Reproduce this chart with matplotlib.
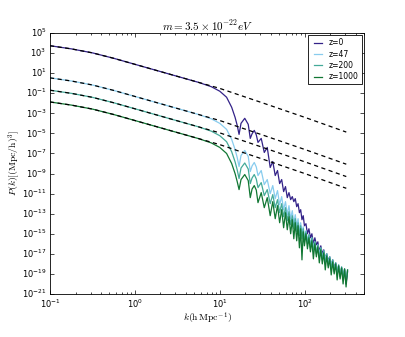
"""
FDM power spectrum vs CDM at several redshifts (log-log)
"""

import matplotlib
matplotlib.use("Agg")
import matplotlib.pyplot as plt
import numpy as np

# ---- data (log10 values) ----
# CDM reference curves (dashed)
lk_cdm = [-1.0, -0.75, -0.5, -0.25, 0.0, 0.25, 0.5, 0.75, 1.0, 1.5, 2.0, 2.49]
lp_cdm_z0 = [3.73, 3.42, 3.02, 2.48, 1.88, 1.28, 0.68, 0.08, -0.52, -1.95, -3.4, -4.87]
lp_cdm_z47 = [0.53, 0.22, -0.18, -0.72, -1.32, -1.92, -2.52, -3.12, -3.72, -5.15, -6.6, -8.07]
lp_cdm_z200 = [-0.7, -1.01, -1.41, -1.95, -2.55, -3.15, -3.75, -4.35, -4.95, -6.38, -7.83, -9.3]
lp_cdm_z1000 = [-1.87, -2.18, -2.58, -3.12, -3.72, -4.32, -4.92, -5.52, -6.12, -7.55, -9.0, -10.47]

# FDM curves: shared k grid
lk_fdm = [
    -1.0, -0.75, -0.5, -0.25, 0.0, 0.25, 0.5, 0.75, 0.9, 1.0, 1.08, 1.14, 1.18, 1.205,
    1.227, 1.25, 1.294, 1.335, 1.359, 1.38, 1.406, 1.43, 1.45, 1.488, 1.524, 1.559,
    1.594, 1.624, 1.653, 1.68, 1.705, 1.729, 1.752, 1.774, 1.795, 1.815, 1.835, 1.854,
    1.872, 1.889, 1.906, 1.922, 1.938, 1.953, 1.968, 1.983, 1.997,
    2.015, 2.0325, 2.05, 2.0675, 2.085, 2.1025, 2.12, 2.1375, 2.155, 2.1725, 2.19,
    2.2075, 2.225, 2.2425, 2.26, 2.2775, 2.295, 2.3125, 2.33, 2.3475, 2.365, 2.3825,
    2.40, 2.4175, 2.435, 2.4525, 2.47, 2.4875, 2.505,
]
lp_z0 = [
    3.73, 3.42, 3.02, 2.48, 1.88, 1.28, 0.68, 0.08, -0.35, -0.8, -1.4, -2.4, -3.4, -4.2,
    -5.1, -4.0, -3.5, -4.1, -5.5, -5.05, -4.7, -5.15, -5.9, -5.5, -6.9, -6.4,
    -8.4, -7.8, -9.2, -8.7, -10.0, -9.6, -10.8, -10.3, -11.4, -10.9, -11.6, -11.3,
    -11.8, -11.5, -12.3, -12.0, -12.9, -12.6, -13.6, -13.2, -14.2,
    -14.0, -15.0, -14.5, -15.4, -15.0, -16.0, -15.4, -16.1, -15.8, -16.8, -16.2,
    -17.0, -16.6, -17.5, -17.0, -17.7, -17.3, -18.2, -17.6, -18.4, -17.9, -18.9,
    -18.2, -19.2, -18.4, -19.4, -18.6, -20.0, -18.8,
]
lp_z47 = [
    0.53, 0.22, -0.18, -0.72, -1.32, -1.92, -2.52, -3.12, -3.55, -4.0, -4.6, -5.6, -6.6, -7.4,
    -8.3, -7.2, -6.7, -7.3, -8.8, -8.25, -7.9, -8.35, -9.2, -8.7, -10.1, -9.6,
    -11.0, -10.2, -11.5, -10.7, -12.1, -11.3, -12.6, -11.8, -13.1, -12.2, -13.5, -12.7,
    -14.0, -13.1, -14.3, -13.5, -14.8, -13.9, -15.0, -14.3, -15.4,
    -14.7, -15.6, -15.1, -16.1, -15.4, -16.3, -15.8, -16.8, -16.1, -17.0, -16.4,
    -17.4, -16.7, -17.5, -17.0, -17.9, -17.3, -18.1, -17.6, -18.6, -17.9, -18.7,
    -18.1, -19.1, -18.3, -19.2, -18.5, -19.5, -18.6,
]
lp_z200 = [
    -0.7, -1.01, -1.41, -1.95, -2.55, -3.15, -3.75, -4.35, -4.78, -5.23, -5.83, -6.83, -7.83, -8.63,
    -9.5, -8.45, -7.95, -8.55, -10.0, -9.45, -9.1, -9.55, -10.4, -9.9, -11.2, -10.6,
    -12.0, -11.1, -12.4, -11.6, -12.9, -12.0, -13.3, -12.4, -13.7, -12.8, -14.1, -13.2,
    -14.5, -13.5, -14.8, -13.9, -15.2, -14.2, -15.5, -14.5, -15.8,
    -14.8, -16.0, -15.1, -16.4, -15.4, -16.8, -15.8, -17.0, -16.1, -17.4, -16.4,
    -17.6, -16.7, -18.0, -17.0, -18.2, -17.3, -18.5, -17.6, -18.8, -17.9, -19.0,
    -18.1, -19.3, -18.3, -19.5, -18.5, -19.8, -18.7,
]
lp_z1000 = [
    -1.87, -2.18, -2.58, -3.12, -3.72, -4.32, -4.92, -5.52, -5.95, -6.4, -7.0, -8.0, -9.0, -9.8,
    -10.6, -9.6, -9.1, -9.7, -11.4, -10.55, -10.2, -10.65, -11.9, -10.9, -12.4, -11.4,
    -13.2, -11.8, -13.5, -12.2, -13.9, -12.6, -14.4, -12.9, -14.6, -13.3, -15.0, -13.6,
    -15.5, -13.9, -15.7, -14.2, -16.4, -14.5, -17.6, -14.8, -16.2,
    -15.0, -16.5, -15.4, -16.8, -15.7, -17.5, -16.0, -17.3, -16.3, -17.9, -16.6,
    -18.0, -16.9, -18.6, -17.2, -18.4, -17.5, -19.1, -17.8, -19.0, -18.0, -19.6,
    -18.2, -19.5, -18.4, -20.0, -18.5, -20.3, -18.6,
]

labels = ["z=0", "z=47", "z=200", "z=1000"]
colors = ["#332288", "#88CCEE", "#44AA99", "#117733"]


def plot_spectra():
    plt.style.use("classic")
    plt.rcParams["mathtext.fontset"] = "cm"

    fig = plt.figure(figsize=(4.05, 3.37), dpi=100, facecolor="white")
    ax = fig.add_axes([0.1235, 0.1276, 0.7753, 0.7745])

    k = 10.0 ** np.array(lk_fdm)
    fdm = [lp_z0, lp_z47, lp_z200, lp_z1000]
    for lp, c, lab in zip(fdm, colors, labels):
        ax.plot(k, 10.0 ** np.array(lp), color=c, lw=0.9, label=lab)

    kc = 10.0 ** np.array(lk_cdm)
    for lp in [lp_cdm_z0, lp_cdm_z47, lp_cdm_z200, lp_cdm_z1000]:
        ax.plot(kc, 10.0 ** np.array(lp), color="black", lw=0.9, ls="--",
                dashes=(3, 2.5))

    ax.set_xscale("log")
    ax.set_yscale("log")
    ax.set_xlim(0.1, 500)
    ax.set_ylim(1e-21, 1e5)
    ax.set_yticks([10.0 ** e for e in range(-21, 6, 2)])
    ax.yaxis.set_minor_locator(matplotlib.ticker.NullLocator())

    ax.tick_params(which="both", direction="in", top=True, right=True,
                   labelsize=6, pad=2.5)
    ax.tick_params(which="major", length=3, width=0.5)
    ax.tick_params(which="minor", length=1.5, width=0.5)
    for s in ax.spines.values():
        s.set_linewidth(0.6)

    ax.set_xlabel(r"$k(\mathrm{h\,Mpc^{-1}})$", fontsize=7)
    ax.set_ylabel(r"$P(k)[(\mathrm{Mpc/h})^3]$", fontsize=7)
    ax.xaxis.set_label_coords(0.5, -0.062)
    ax.yaxis.set_label_coords(-0.09, 0.5)
    ax.set_title(r"$m=3.5\times10^{-22}eV$", fontsize=8, pad=1.5)

    leg = ax.legend(loc="upper right", fontsize=5.5, frameon=True, fancybox=False,
                    handlelength=1.7, borderpad=0.4, labelspacing=0.3,
                    handletextpad=0.6, borderaxespad=0.3)
    leg.get_frame().set_linewidth(0.6)

    fig.savefig("out.png", dpi=100, facecolor="white")
    plt.close(fig)


if __name__ == "__main__":
    plot_spectra()
